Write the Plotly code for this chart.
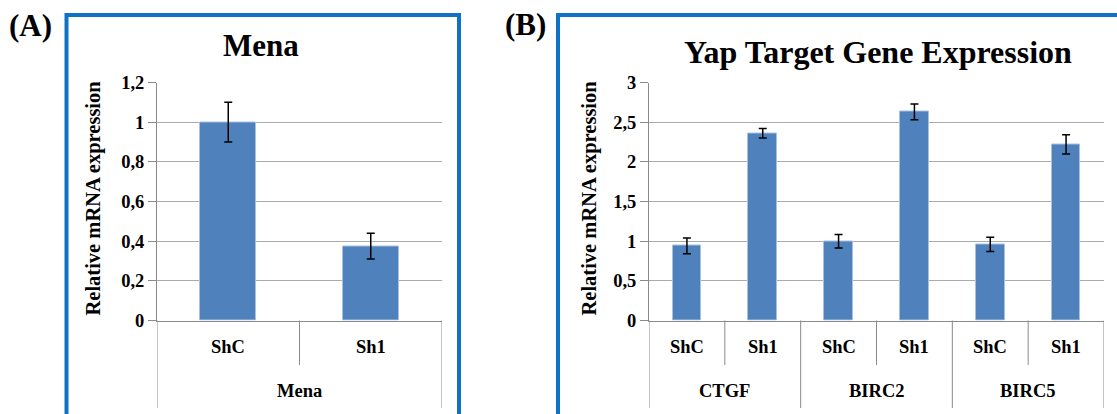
import plotly.graph_objects as go

# ---- data ----
conditions = ["ShC", "Sh1"]

mena_group = "Mena"
mena_values = [1.0, 0.375]
mena_errors = [0.1, 0.065]

yap_genes = ["CTGF", "BIRC2", "BIRC5"]
yap_values = [0.94, 2.36, 1.0, 2.63, 0.96, 2.22]
yap_errors = [0.1, 0.06, 0.085, 0.1, 0.09, 0.12]

mena_ticks = [0, 0.2, 0.4, 0.6, 0.8, 1.0, 1.2]
mena_ticktext = ["0", "0,2", "0,4", "0,6", "0,8", "1", "1,2"]
yap_ticks = [0, 0.5, 1.0, 1.5, 2.0, 2.5, 3.0]
yap_ticktext = ["0", "0,5", "1", "1,5", "2", "2,5", "3"]

# ---- page geometry (pixels) ----
W, H = 1117, 414


def px(x):
    return x / W


def py(y):
    return 1 - y / H


FONT = "Liberation Serif, Times New Roman, serif"
BAR = "#4f81bd"
BAR_EDGE = "#a9c0df"
GRID = "#ababab"
AXIS = "#8a8a8a"
FRAME = "#0f72c4"

Y_ZERO, Y_TOP = 320.5, 82.5
Y_SUB, Y_GROUP, Y_TABLE_END, Y_SUB_END = 347, 391, 408, 365

fig = go.Figure()

# Panel A bars
fig.add_trace(go.Bar(
    x=list(range(len(conditions))), y=mena_values, width=0.39,
    marker=dict(color=BAR, line=dict(color=BAR_EDGE, width=1)),
    error_y=dict(type="data", array=mena_errors, color="black", thickness=1.5, width=4),
    xaxis="x", yaxis="y", showlegend=False,
))

# Panel B bars
n_b = len(yap_genes) * len(conditions)
fig.add_trace(go.Bar(
    x=list(range(n_b)), y=yap_values, width=0.38,
    marker=dict(color=BAR, line=dict(color=BAR_EDGE, width=1)),
    error_y=dict(type="data", array=yap_errors, color="black", thickness=1.5, width=4),
    xaxis="x2", yaxis="y2", showlegend=False,
))

tick_font = dict(family=FONT, size=18.5, color="black", weight="bold")

common_y = dict(
    showgrid=True, gridcolor=GRID, gridwidth=1.4,
    showline=True, linecolor=AXIS, linewidth=1,
    ticks="outside", tickcolor=AXIS, ticklen=8,
    tickfont=tick_font, zeroline=False, automargin=False,
)
common_x = dict(
    showgrid=False, zeroline=False, showticklabels=False, ticks="",
    showline=True, linecolor=AXIS, linewidth=1.4, automargin=False,
)

fig.update_layout(
    template="none",
    width=W, height=H,
    margin=dict(l=0, r=0, t=0, b=0, pad=0, autoexpand=False),
    paper_bgcolor="white", plot_bgcolor="white",
    bargap=0,
    xaxis=dict(domain=[px(157), px(442)], range=[-0.5, 1.5], anchor="y", **common_x),
    yaxis=dict(domain=[py(Y_ZERO), py(Y_TOP)], range=[0, 1.2], anchor="x",
               tickvals=mena_ticks, ticktext=mena_ticktext, **common_y),
    xaxis2=dict(domain=[px(649), px(1104)], range=[-0.5, n_b - 0.5], anchor="y2", **common_x),
    yaxis2=dict(domain=[py(Y_ZERO), py(Y_TOP)], range=[0, 3], anchor="x2",
                tickvals=yap_ticks, ticktext=yap_ticktext, **common_y),
)

shapes = []
annotations = []


def vline(xref, x, y0, y1):
    shapes.append(dict(type="line", xref=xref, yref="paper", x0=x, x1=x,
                       y0=py(y0), y1=py(y1), line=dict(color=AXIS, width=1)))


def label(xref, x, y, text, size=18.5):
    annotations.append(dict(xref=xref, yref="paper", x=x, y=py(y), text=text,
                            showarrow=False, xanchor="center", yanchor="middle",
                            font=dict(family=FONT, size=size, color="black", weight="bold")))


# Panel A category table
vline("x", -0.5, Y_ZERO, Y_TABLE_END)
vline("x", 0.5, Y_ZERO, Y_SUB_END)
vline("x", 1.5, Y_ZERO, Y_TABLE_END)
for i, c in enumerate(conditions):
    label("x", i, Y_SUB, c)
label("x", 0.5, Y_GROUP, mena_group)

# Panel B category table
k = len(conditions)
for g, gene in enumerate(yap_genes):
    left = g * k - 0.5
    vline("x2", left, Y_ZERO, Y_TABLE_END)
    for j in range(1, k):
        vline("x2", left + j, Y_ZERO, Y_SUB_END)
    for j, c in enumerate(conditions):
        label("x2", g * k + j, Y_SUB, c)
    label("x2", g * k + (k - 1) / 2, Y_GROUP, gene)
vline("x2", n_b - 0.5, Y_ZERO, Y_TABLE_END)

# Blue frames around each chart
shapes.append(dict(type="rect", xref="paper", yref="paper",
                   x0=px(66.5), x1=px(459), y0=py(440), y1=py(15),
                   line=dict(color=FRAME, width=4), fillcolor="rgba(0,0,0,0)"))
shapes.append(dict(type="rect", xref="paper", yref="paper",
                   x0=px(558), x1=px(1140), y0=py(440), y1=py(15),
                   line=dict(color=FRAME, width=4), fillcolor="rgba(0,0,0,0)"))

# Titles, panel letters, axis titles
annotations.append(dict(xref="paper", yref="paper", x=px(261), y=py(45), text="Mena",
                        showarrow=False, xanchor="center", yanchor="middle",
                        font=dict(family=FONT, size=31, color="black", weight="bold")))
annotations.append(dict(xref="paper", yref="paper", x=px(878), y=py(52),
                        text="Yap Target Gene Expression",
                        showarrow=False, xanchor="center", yanchor="middle",
                        font=dict(family=FONT, size=32, color="black", weight="bold")))

letter_font = dict(family=FONT, size=31, color="black", weight="bold")
annotations.append(dict(xref="paper", yref="paper", x=px(30.5), y=py(25), text="(A)",
                        showarrow=False, xanchor="center", yanchor="middle", font=letter_font))
annotations.append(dict(xref="paper", yref="paper", x=px(525.5), y=py(24), text="(B)",
                        showarrow=False, xanchor="center", yanchor="middle", font=letter_font))

ytitle_font = dict(family=FONT, size=20.5, color="black", weight="bold")
for xc in (93, 589):
    annotations.append(dict(xref="paper", yref="paper", x=px(xc), y=py(198.5),
                            text="Relative mRNA expression", textangle=-90,
                            showarrow=False, xanchor="center", yanchor="middle",
                            font=ytitle_font))

fig.update_layout(shapes=shapes, annotations=annotations)

fig.write_html("out.html")
